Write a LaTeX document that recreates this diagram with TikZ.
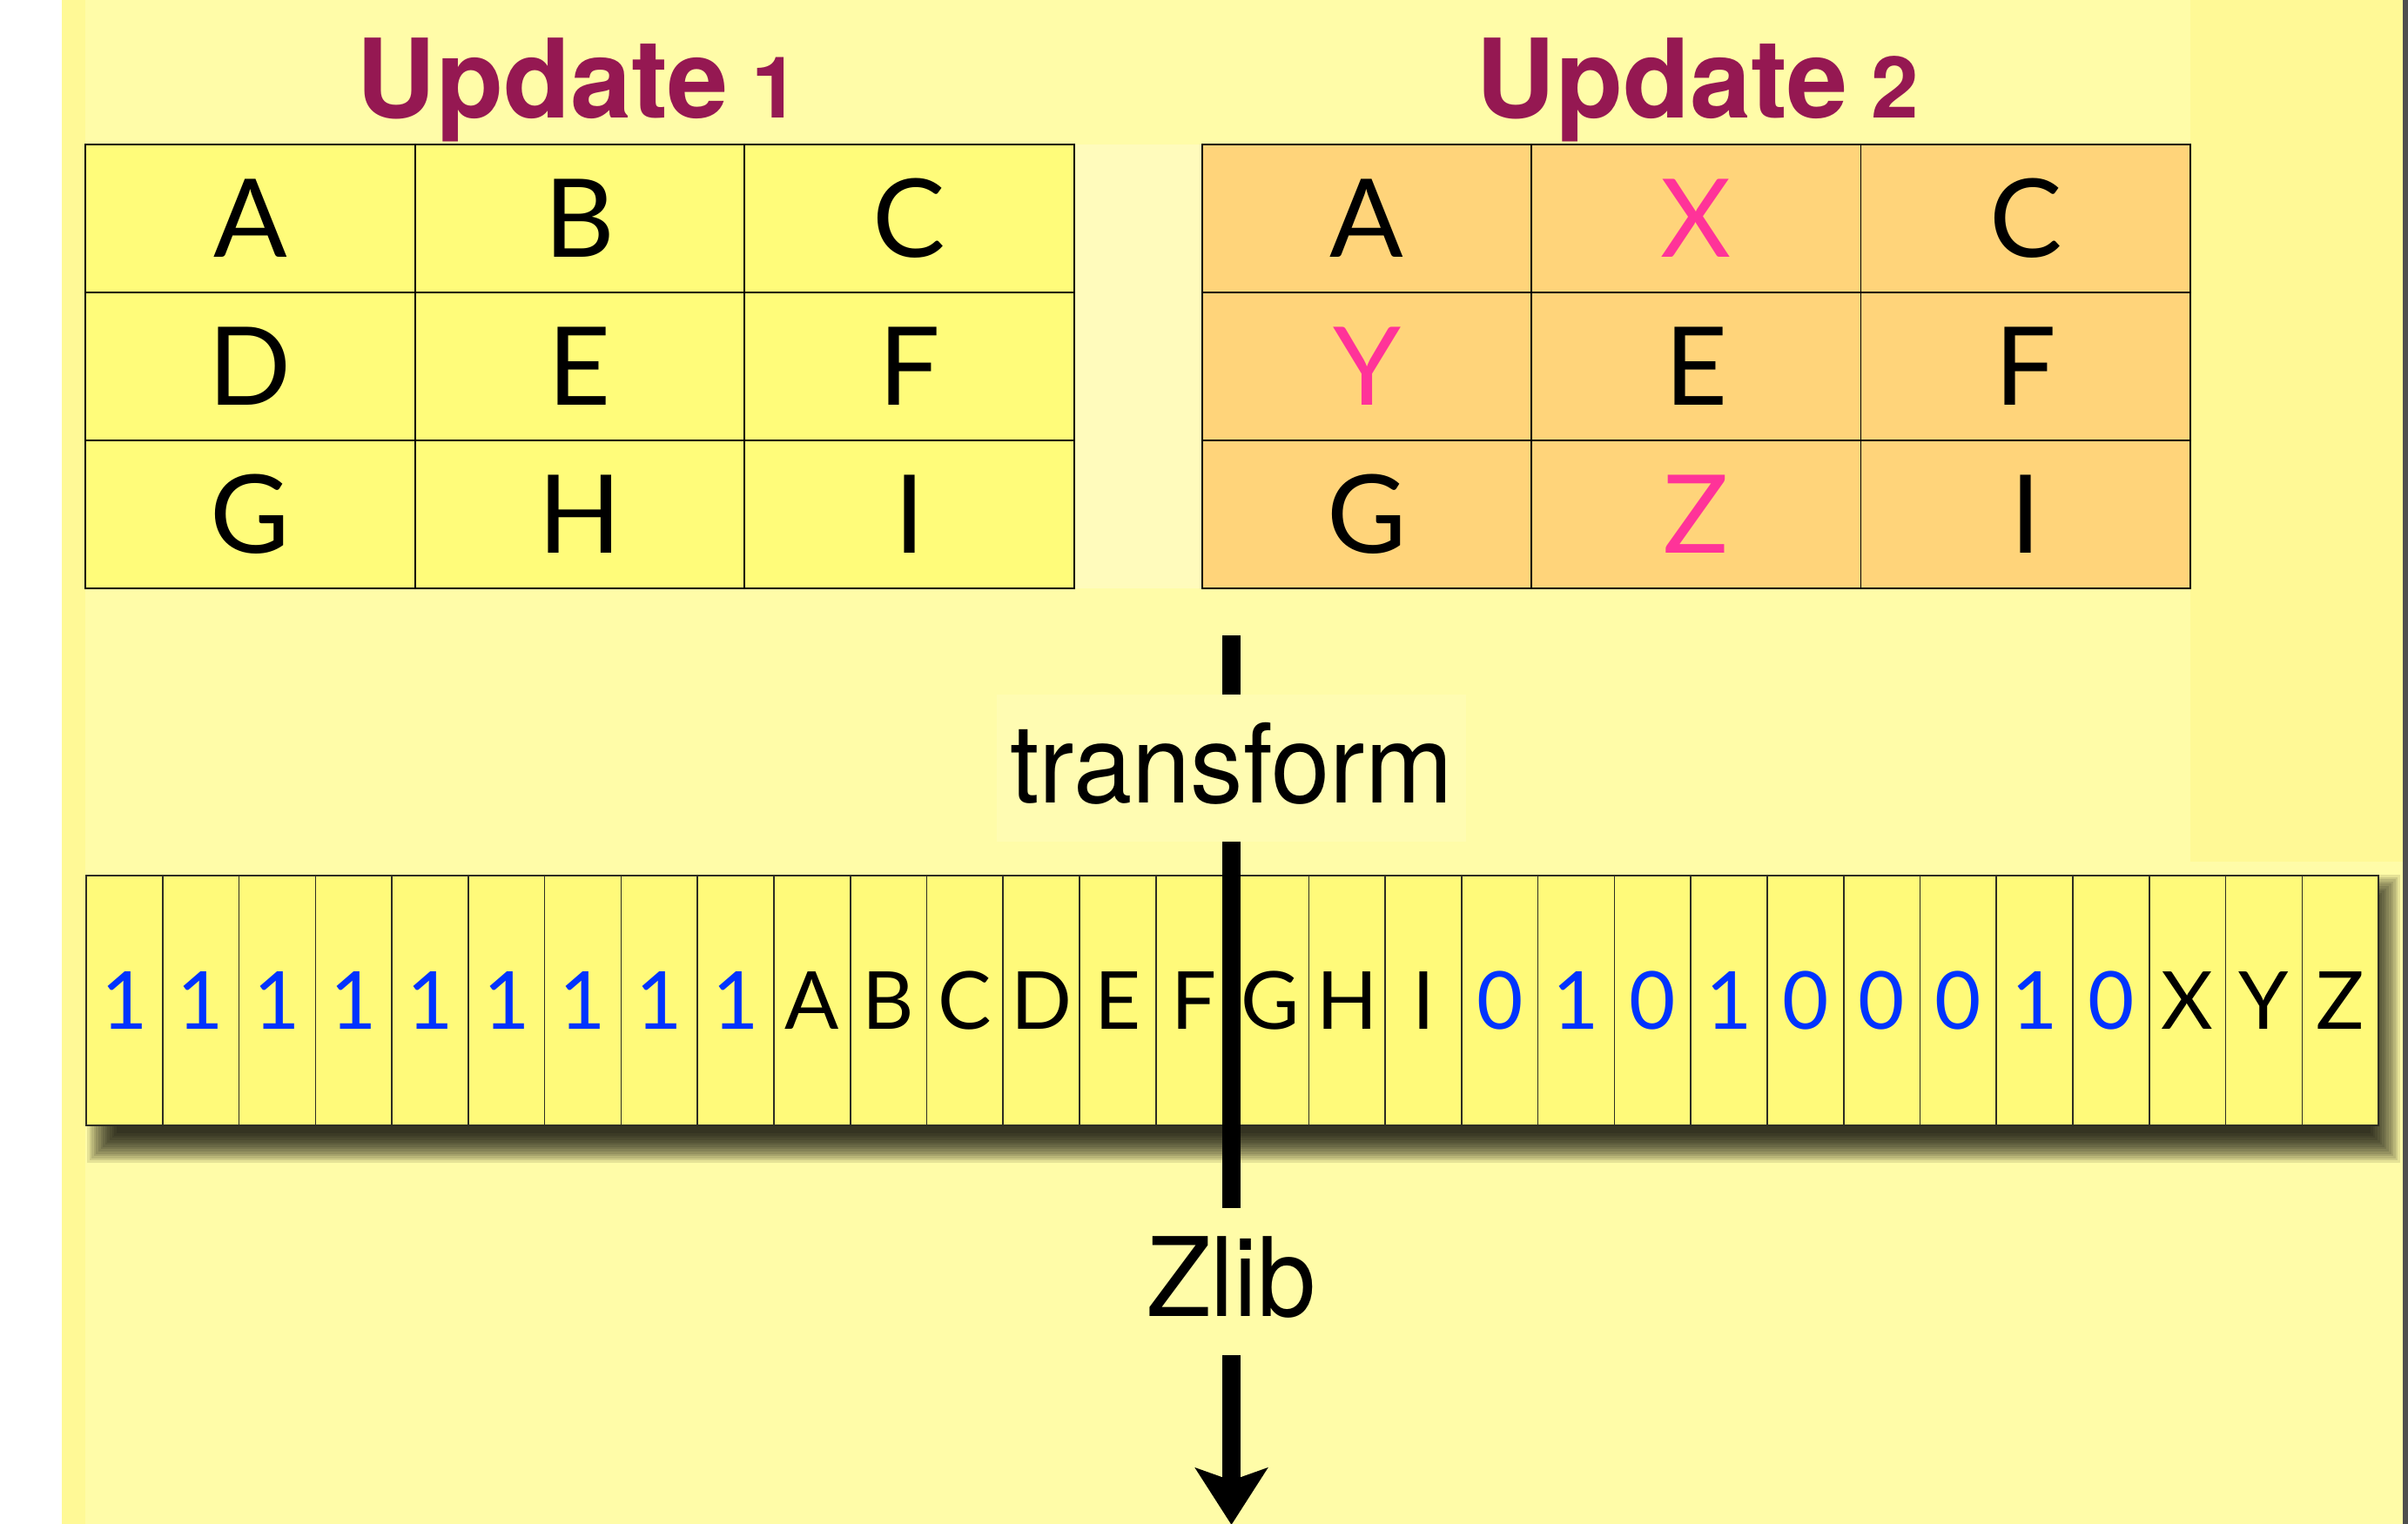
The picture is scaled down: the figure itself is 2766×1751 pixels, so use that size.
\documentclass[tikz,border=0pt]{standalone}
\usepackage{fontspec}
\usetikzlibrary{arrows.meta}

\newfontfamily\cellfont{Lato}
\newfontfamily\headfont{TeX Gyre Heros}
\newfontfamily\stepfont[FakeStretch=0.96]{TeX Gyre Heros}

\definecolor{bgmain}{RGB}{255,252,168}
\definecolor{bgwarm}{RGB}{255,249,150}
\definecolor{gapcol}{RGB}{255,251,188}
\definecolor{boxlight}{RGB}{255,252,178}
\definecolor{edgegray}{RGB}{78,78,78}
\definecolor{tabyellow}{RGB}{255,252,122}
\definecolor{taborange}{RGB}{255,212,122}
\definecolor{stripyellow}{RGB}{255,250,122}
\definecolor{stripedge}{RGB}{45,45,35}
\definecolor{headred}{RGB}{149,24,82}
\definecolor{newpink}{RGB}{255,51,153}
\definecolor{bitblue}{RGB}{0,51,255}

\tikzset{
  gridcell/.style={draw=black, line width=1.8, inner sep=0pt, outer sep=0pt,
    minimum width=378.5pt, minimum height=170pt,
    font=\cellfont\fontsize{125}{130}\selectfont},
  oldcell/.style={gridcell, fill=tabyellow},
  newcell/.style={gridcell, fill=taborange},
  bytecell/.style={draw=stripedge, line width=1.6, fill=stripyellow,
    inner sep=0pt, outer sep=0pt, minimum width=87.77pt, minimum height=287pt,
    font=\cellfont\fontsize{92}{96}\selectfont},
  heading/.style={text=headred, inner sep=0pt,
    font=\headfont\bfseries\fontsize{126}{130}\selectfont},
  steplabel/.style={inner sep=0pt, outer sep=0pt, minimum width=539pt,
    minimum height=169pt, text height=79pt, text depth=0pt,
    font=\stepfont\fontsize{126}{130}\selectfont},
  flow/.style={line width=21pt, line cap=butt, draw=black}
}

\begin{document}
\begin{tikzpicture}[x=1pt,y=-1pt]
\useasboundingbox (0,0) rectangle (2766,1751);

% slide background
\fill[white] (0,0) rectangle (2766,1751);
\fill[bgmain] (71,0) rectangle (2760,1751);
\fill[bgwarm] (2516,0) rectangle (2760,990);
\fill[bgwarm] (71,0) rectangle (98,1751);
\fill[gapcol] (1234,166) rectangle (1381,676);
\fill[edgegray] (2760,0) rectangle (2766,1751);

% headings
\node[heading, anchor=base] (h1) at (664,135) {Update\fontsize{98}{100}\selectfont\ 1};
\node[heading, anchor=base] (h2) at (1950,135) {Update\fontsize{98}{100}\selectfont\ 2};

% first update grid
\foreach \t/\c/\r in {A/0/0,B/1/0,C/2/0,D/0/1,E/1/1,F/2/1,G/0/2,H/1/2,I/2/2}
  \node[oldcell] (u1-\r-\c) at ({98+378.67*(\c+0.5)},{166+170*(\r+0.5)}) {\t};
\draw[line width=2.6] (98,166) rectangle (1234,676);

% second update grid
\foreach \t/\c/\r/\col in {A/0/0/black,X/1/0/newpink,C/2/0/black,
                           Y/0/1/newpink,E/1/1/black,F/2/1/black,
                           G/0/2/black,Z/1/2/newpink,I/2/2/black}
  \node[newcell, text=\col] (u2-\r-\c) at ({1381+378.33*(\c+0.5)},{166+170*(\r+0.5)}) {\t};
\draw[line width=2.6] (1381,166) rectangle (2516,676);

% transform and compression labels
\node[steplabel, fill=boxlight] (tr) at (1414.5,882.5) {transform};
\node[steplabel] (zl) at (1414.5,1472.5) {Zlib};

% soft drop shadow under the byte strip
\foreach \k in {0,...,13}
  \fill[black, opacity=0.1] ({100+2.6*\k},{1005+2.6*\k}) rectangle ({2757-2.6*\k},{1336-2.6*\k});

% encoded byte strip
\foreach \t/\col [count=\i from 0] in {1/bitblue,1/bitblue,1/bitblue,1/bitblue,1/bitblue,
    1/bitblue,1/bitblue,1/bitblue,1/bitblue,
    A/black,B/black,C/black,D/black,E/black,F/black,G/black,H/black,I/black,
    0/bitblue,1/bitblue,0/bitblue,1/bitblue,0/bitblue,0/bitblue,0/bitblue,1/bitblue,0/bitblue,
    X/black,Y/black,Z/black}
  \node[bytecell, text=\col] (s\i) at ({99+87.77*(\i+0.5)},1149.5) {\t};
\draw[stripedge, line width=2.6] (s0.north west) rectangle (s29.south east);

% processing flow
\coordinate (start) at (1414.5,730);
\coordinate (out) at (1414.5,1752);
\draw[flow] (start) -- (tr);
\draw[flow] (tr) -- (zl);
\draw[flow, -{Stealth[length=65pt, width=82pt, inset=14pt]}] (zl) -- (out);
\end{tikzpicture}
\end{document}
